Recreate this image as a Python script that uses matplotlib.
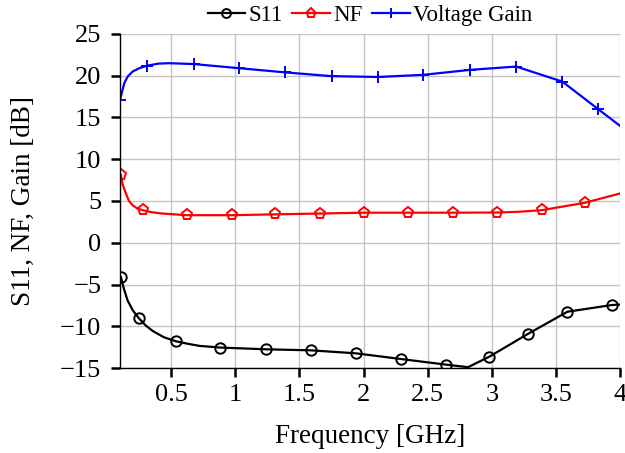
import numpy as np
import matplotlib
matplotlib.use('Agg')
import matplotlib.pyplot as plt

plt.rcParams['font.family'] = ['Liberation Serif', 'DejaVu Serif']

# data (GHz, dB)
s11_freq = [0.107, 0.13, 0.159, 0.2, 0.245, 0.3, 0.354, 0.44, 0.537, 0.63, 0.72, 0.883, 1.24, 1.586, 1.94,
            2.29, 2.646, 2.815, 2.98, 3.28, 3.59, 3.935, 4.0]
s11_db = [-4.1, -5.5, -6.9, -8.1, -9.0, -9.9, -10.55, -11.3, -11.8, -12.1, -12.35, -12.55, -12.76, -12.88, -13.24,
          -13.92, -14.6, -14.9, -13.65, -10.93, -8.26, -7.46, -7.4]
s11_marks = [0, 4, 8, 11, 12, 13, 14, 15, 16, 18, 19, 20, 21]

nf_freq = [0.107, 0.12, 0.146, 0.17, 0.198, 0.235, 0.276, 0.35, 0.43, 0.62, 0.97, 1.31, 1.66, 2.0,
           2.35, 2.70, 3.04, 3.2, 3.39, 3.73, 4.0]
nf_db = [8.1, 7.0, 5.9, 5.0, 4.5, 4.1, 3.9, 3.65, 3.5, 3.3, 3.3, 3.4, 3.5, 3.6,
         3.6, 3.6, 3.62, 3.7, 3.9, 4.8, 5.9]
nf_marks = [0, 6, 9, 10, 11, 12, 13, 14, 15, 16, 18, 19]

gain_freq = [0.1, 0.115, 0.133, 0.16, 0.198, 0.25, 0.31, 0.4, 0.484, 0.674, 1.03, 1.39, 1.75, 2.11,
             2.46, 2.83, 3.19, 3.55, 3.83, 4.0]
gain_db = [17.1, 18.0, 19.1, 19.9, 20.5, 20.9, 21.2, 21.45, 21.5, 21.4, 20.9, 20.4, 19.95, 19.85,
           20.1, 20.7, 21.1, 19.3, 16.0, 14.0]
gain_marks = [0, 6, 9, 10, 11, 12, 13, 14, 15, 16, 17, 18]

fig = plt.figure(figsize=(6.25, 4.53), dpi=100)
ax = fig.add_axes([0.192, 0.1876, 0.8, 0.7374])

ax.plot(s11_freq, s11_db, color='black', lw=1.6, marker='o', ms=7.5, mfc='none',
        mew=1.4, markevery=s11_marks, label='S11')
ax.plot(nf_freq, nf_db, color='red', lw=1.6, marker='p', ms=8, mfc='none',
        mew=1.4, markevery=nf_marks, label='NF')
ax.plot(gain_freq, gain_db, color='blue', lw=1.6, marker='+', ms=9,
        mew=1.4, markevery=gain_marks, label='Voltage Gain')

ax.set_xlim(0.1, 4)
ax.set_ylim(-15, 25)
ax.set_xticks([0.5, 1, 1.5, 2, 2.5, 3, 3.5, 4])
ax.set_xticklabels(['0.5', '1', '1.5', '2', '2.5', '3', '3.5', '4'])
ax.set_yticks(np.arange(-15, 26, 5))
ax.set_yticklabels(['\u221215', '\u221210', '\u22125', '0', '5', '10', '15', '20', '25'])
ax.grid(True, color='#c4c4c4', lw=1)
ax.set_axisbelow(True)
for s in ['top', 'right']:
    ax.spines[s].set_visible(False)
for s in ['left', 'bottom']:
    ax.spines[s].set_linewidth(1.0)
ax.tick_params(direction='out', length=6.5, width=1.8, labelsize=19)
ax.tick_params(axis='x', pad=5)
ax.tick_params(axis='y', pad=7)

ax.set_xlabel('Frequency [GHz]', fontsize=19.5, labelpad=13)
ax.set_ylabel('S11, NF, Gain [dB]', fontsize=19.5, labelpad=17)

ax.legend(loc='center', bbox_to_anchor=(0.5, 1.055), ncol=3, frameon=False,
          fontsize=16.5, handlelength=1.65, handletextpad=0.15, columnspacing=0.4,
          borderaxespad=0, borderpad=0.1, markerscale=0.85)

fig.savefig('out.png', dpi=100)
